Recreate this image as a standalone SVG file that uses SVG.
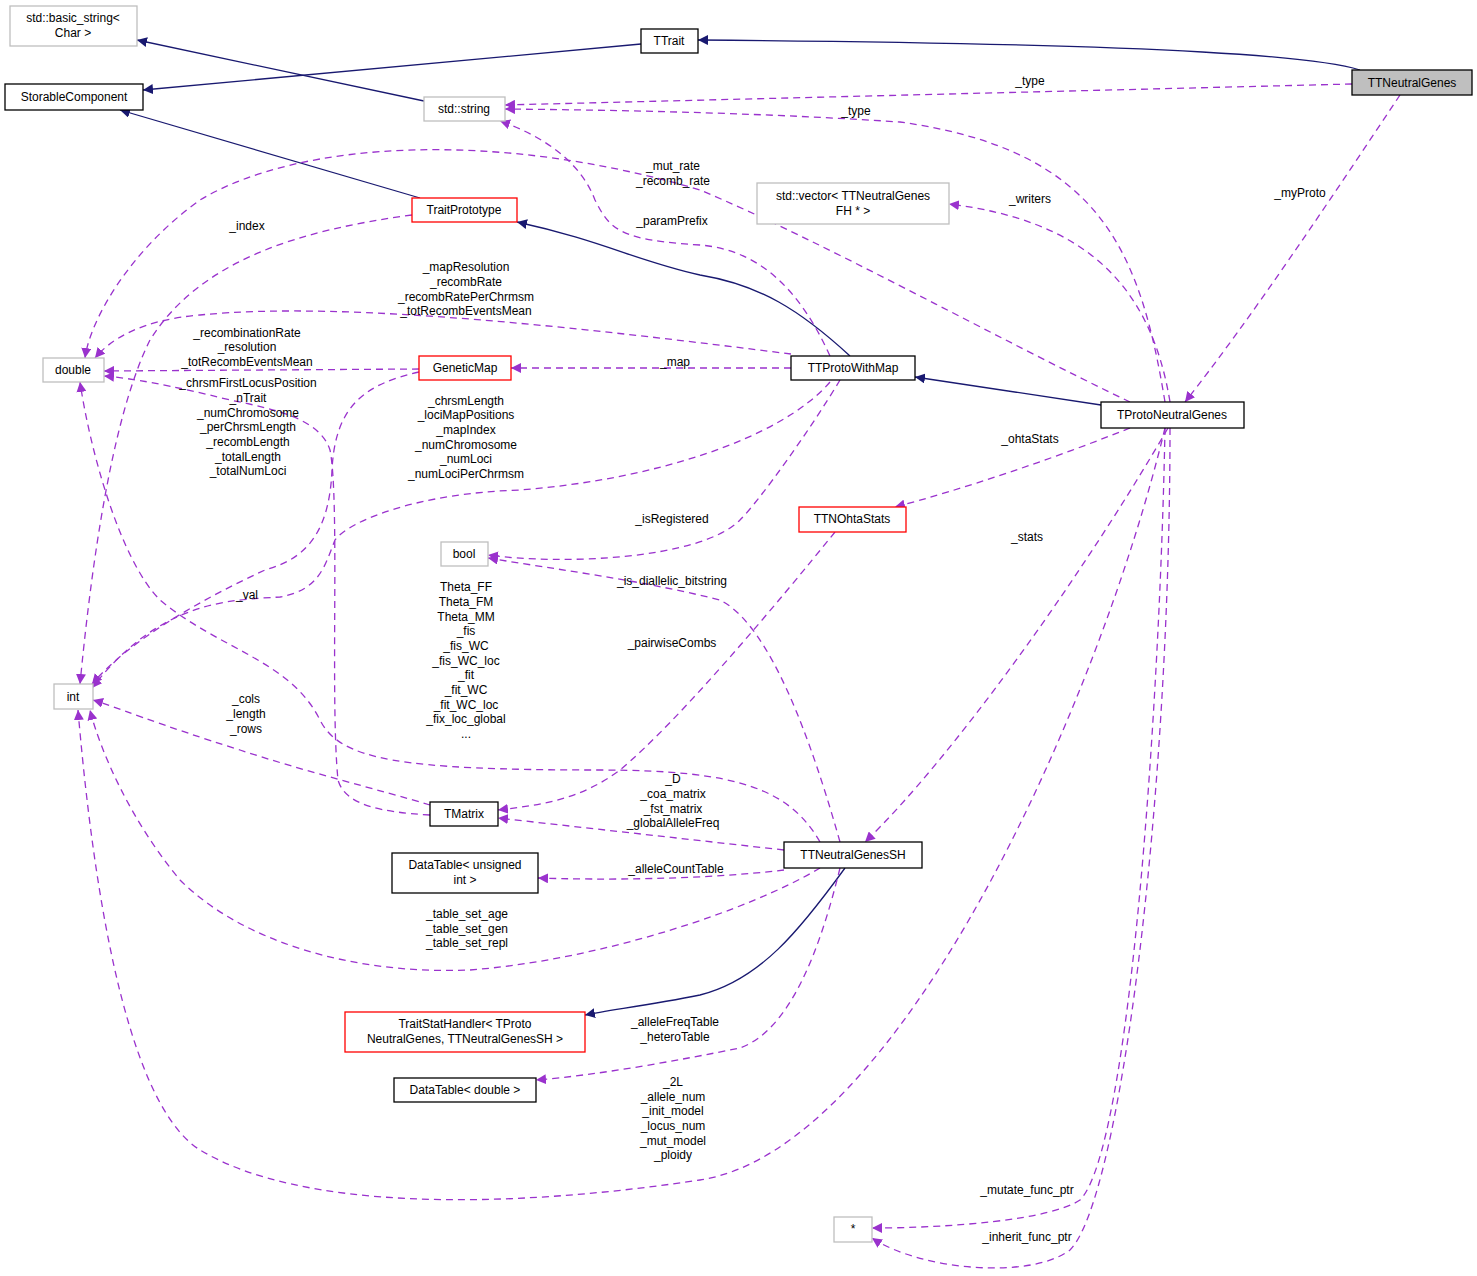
<svg xmlns="http://www.w3.org/2000/svg" width="1477" height="1276" viewBox="0 0 1477 1276">
<style>
text{font-family:"Liberation Sans",Arial,sans-serif;font-size:12px;fill:#000}
.n{text-anchor:middle}
.g rect{fill:#fff;stroke:#bfbfbf;stroke-width:1.3}
.b rect{fill:#fff;stroke:#000;stroke-width:1.3}
.r rect{fill:#fff;stroke:#ff0000;stroke-width:1.3}
.s{fill:none;stroke:#191970;stroke-width:1.3;marker-end:url(#hs)}
.d{fill:none;stroke:#9a32cd;stroke-width:1.3;stroke-dasharray:7,5;marker-end:url(#hd)}
.l{text-anchor:middle}
</style>
<defs>
<marker id="hs" viewBox="0 0 10 10" refX="10" refY="5" markerWidth="10" markerHeight="10" markerUnits="userSpaceOnUse" orient="auto"><path d="M0,0 L10,5 L0,10 z" fill="#191970"/></marker>
<marker id="hd" viewBox="0 0 10 10" refX="10" refY="5" markerWidth="10" markerHeight="10" markerUnits="userSpaceOnUse" orient="auto"><path d="M0,0 L10,5 L0,10 z" fill="#9a32cd"/></marker>
</defs>
<g id="connectors">
<path class="s" d="M1360,70 C1320,58 1200,44 698,40"/>
<path class="s" d="M641,44 L143,90"/>
<path class="s" d="M424,101 L137,40"/>
<path class="s" d="M420,198 L120,110"/>
<path class="s" d="M850,356 C800,310 760,285 700,275 C640,262 600,240 517,222"/>
<path class="s" d="M1101,405 L915,377"/>
<path class="s" d="M845,868 C800,930 760,980 700,995 C650,1005 610,1010 585,1015"/>
<path class="d" d="M1352,84 L505,105"/>
<path class="d" d="M1165,402 C1140,250 1100,150 900,122 C750,112 600,110 505,109"/>
<path class="d" d="M1400,95 C1330,200 1250,320 1185,402"/>
<path class="d" d="M1170,402 C1150,280 1080,220 949,204"/>
<path class="d" d="M1130,402 C1000,340 820,240 700,190 C500,130 300,140 200,200 C130,250 90,320 85,358"/>
<path class="d" d="M830,356 C800,290 760,250 700,245 C620,240 610,230 595,200 C580,160 540,135 500,121"/>
<path class="d" d="M791,354 C600,330 350,300 200,315 C140,320 110,340 95,358"/>
<path class="d" d="M419,369 L104,371"/>
<path class="d" d="M791,368 L511,368"/>
<path class="d" d="M412,215 C300,230 200,260 150,340 C110,420 90,580 80,684"/>
<path class="d" d="M419,372 C360,385 335,410 332,470 C329,540 300,560 265,570 C200,600 130,640 92,684"/>
<path class="d" d="M830,382 C780,440 650,480 520,490 C420,493 350,520 335,540 C325,565 320,590 280,597 C230,600 160,600 92,688"/>
<path class="d" d="M430,815 C380,812 345,805 338,780 C330,700 340,500 330,450 C320,420 280,410 230,400 C170,385 130,378 104,376"/>
<path class="d" d="M820,842 C790,790 740,770 600,770 C400,770 340,760 320,720 C290,660 220,650 160,600 C120,560 90,450 80,382"/>
<path class="d" d="M430,805 C380,790 300,770 240,750 C160,725 110,705 93,700"/>
<path class="d" d="M820,868 C750,910 600,960 470,970 C350,975 240,940 180,880 C130,820 100,750 90,710"/>
<path class="d" d="M1165,428 C1100,700 900,1150 700,1180 C500,1210 300,1210 200,1150 C120,1100 90,850 78,710"/>
<path class="d" d="M784,850 L498,818"/>
<path class="d" d="M835,532 C780,600 680,720 620,770 C580,800 540,805 498,810"/>
<path class="d" d="M840,380 C810,430 760,500 740,520 C700,560 560,565 488,555"/>
<path class="d" d="M840,842 C800,700 760,620 720,600 C640,580 560,570 488,558"/>
<path class="d" d="M784,870 C700,880 600,880 538,878"/>
<path class="d" d="M840,868 C820,950 790,1030 740,1048 C680,1060 600,1075 536,1080"/>
<path class="d" d="M1130,428 C1050,460 960,490 895,507"/>
<path class="d" d="M1168,428 C1080,580 950,760 865,842"/>
<path class="d" d="M1165,428 C1160,700 1130,1150 1080,1200 C1050,1220 950,1228 872,1228"/>
<path class="d" d="M1170,428 C1170,800 1120,1200 1070,1250 C1030,1280 920,1270 872,1238"/>
</g>
<g id="labels">
<text class="l" x="1030" y="85">_type</text>
<text class="l" x="856" y="115">_type</text>
<text class="l" x="1300" y="197">_myProto</text>
<text class="l" x="1030" y="203">_writers</text>
<text class="l" x="673" y="170">_mut_rate</text>
<text class="l" x="673" y="185">_recomb_rate</text>
<text class="l" x="672" y="225">_paramPrefix</text>
<text class="l" x="247" y="230">_index</text>
<text class="l" x="466" y="271">_mapResolution</text>
<text class="l" x="466" y="286">_recombRate</text>
<text class="l" x="466" y="301">_recombRatePerChrmsm</text>
<text class="l" x="466" y="315">_totRecombEventsMean</text>
<text class="l" x="247" y="337">_recombinationRate</text>
<text class="l" x="247" y="351">_resolution</text>
<text class="l" x="247" y="366">_totRecombEventsMean</text>
<text class="l" x="675" y="366">_map</text>
<text class="l" x="248" y="387">_chrsmFirstLocusPosition</text>
<text class="l" x="248" y="402">_nTrait</text>
<text class="l" x="248" y="417">_numChromosome</text>
<text class="l" x="248" y="431">_perChrsmLength</text>
<text class="l" x="248" y="446">_recombLength</text>
<text class="l" x="248" y="461">_totalLength</text>
<text class="l" x="248" y="475">_totalNumLoci</text>
<text class="l" x="466" y="405">_chrsmLength</text>
<text class="l" x="466" y="419">_lociMapPositions</text>
<text class="l" x="466" y="434">_mapIndex</text>
<text class="l" x="466" y="449">_numChromosome</text>
<text class="l" x="466" y="463">_numLoci</text>
<text class="l" x="466" y="478">_numLociPerChrmsm</text>
<text class="l" x="1030" y="443">_ohtaStats</text>
<text class="l" x="672" y="523">_isRegistered</text>
<text class="l" x="1027" y="541">_stats</text>
<text class="l" x="672" y="585">_is_diallelic_bitstring</text>
<text class="l" x="247" y="599">_val</text>
<text class="l" x="466" y="591">Theta_FF</text>
<text class="l" x="466" y="606">Theta_FM</text>
<text class="l" x="466" y="621">Theta_MM</text>
<text class="l" x="466" y="635">_fis</text>
<text class="l" x="466" y="650">_fis_WC</text>
<text class="l" x="466" y="665">_fis_WC_loc</text>
<text class="l" x="466" y="679">_fit</text>
<text class="l" x="466" y="694">_fit_WC</text>
<text class="l" x="466" y="709">_fit_WC_loc</text>
<text class="l" x="466" y="723">_fix_loc_global</text>
<text class="l" x="466" y="738">...</text>
<text class="l" x="672" y="647">_pairwiseCombs</text>
<text class="l" x="246" y="703">_cols</text>
<text class="l" x="246" y="718">_length</text>
<text class="l" x="246" y="733">_rows</text>
<text class="l" x="673" y="783">_D</text>
<text class="l" x="673" y="798">_coa_matrix</text>
<text class="l" x="673" y="813">_fst_matrix</text>
<text class="l" x="673" y="827">_globalAlleleFreq</text>
<text class="l" x="676" y="873">_alleleCountTable</text>
<text class="l" x="467" y="918">_table_set_age</text>
<text class="l" x="467" y="933">_table_set_gen</text>
<text class="l" x="467" y="947">_table_set_repl</text>
<text class="l" x="675" y="1026">_alleleFreqTable</text>
<text class="l" x="675" y="1041">_heteroTable</text>
<text class="l" x="673" y="1086">_2L</text>
<text class="l" x="673" y="1101">_allele_num</text>
<text class="l" x="673" y="1115">_init_model</text>
<text class="l" x="673" y="1130">_locus_num</text>
<text class="l" x="673" y="1145">_mut_model</text>
<text class="l" x="673" y="1159">_ploidy</text>
<text class="l" x="1027" y="1194">_mutate_func_ptr</text>
<text class="l" x="1027" y="1241">_inherit_func_ptr</text>
</g>
<g id="n_basic_string" class="g"><rect x="10" y="6" width="127" height="40"/><text class="n" x="73" y="22">std::basic_string&lt;</text><text class="n" x="73" y="37">Char &gt;</text></g>
<g id="n_TTrait" class="b"><rect x="641" y="29" width="57" height="24"/><text class="n" x="669" y="45">TTrait</text></g>
<g id="n_StorableComponent" class="b"><rect x="5" y="84" width="138" height="26"/><text class="n" x="74" y="101">StorableComponent</text></g>
<g id="n_TTNeutralGenes"><rect x="1352" y="70" width="120" height="25" fill="#bfbfbf" stroke="#000" stroke-width="1.3"/><text class="n" x="1412" y="87">TTNeutralGenes</text></g>
<g id="n_string" class="g"><rect x="424" y="97" width="81" height="24"/><text class="n" x="464" y="113">std::string</text></g>
<g id="n_TraitPrototype" class="r"><rect x="412" y="198" width="105" height="24"/><text class="n" x="464" y="214">TraitPrototype</text></g>
<g id="n_vector" class="g"><rect x="757" y="183" width="192" height="41"/><text class="n" x="853" y="200">std::vector&lt; TTNeutralGenes</text><text class="n" x="853" y="215">FH * &gt;</text></g>
<g id="n_double" class="g"><rect x="43" y="358" width="61" height="24"/><text class="n" x="73" y="374">double</text></g>
<g id="n_GeneticMap" class="r"><rect x="419" y="356" width="92" height="24"/><text class="n" x="465" y="372">GeneticMap</text></g>
<g id="n_TTProtoWithMap" class="b"><rect x="791" y="356" width="124" height="24"/><text class="n" x="853" y="372">TTProtoWithMap</text></g>
<g id="n_TProtoNeutralGenes" class="b"><rect x="1101" y="402" width="143" height="26"/><text class="n" x="1172" y="419">TProtoNeutralGenes</text></g>
<g id="n_TTNOhtaStats" class="r"><rect x="799" y="507" width="107" height="25"/><text class="n" x="852" y="523">TTNOhtaStats</text></g>
<g id="n_bool" class="g"><rect x="441" y="542" width="47" height="24"/><text class="n" x="464" y="558">bool</text></g>
<g id="n_int" class="g"><rect x="54" y="684" width="39" height="25"/><text class="n" x="73" y="701">int</text></g>
<g id="n_TMatrix" class="b"><rect x="430" y="802" width="68" height="24"/><text class="n" x="464" y="818">TMatrix</text></g>
<g id="n_TTNeutralGenesSH" class="b"><rect x="784" y="842" width="138" height="26"/><text class="n" x="853" y="859">TTNeutralGenesSH</text></g>
<g id="n_DataTable_uint" class="b"><rect x="392" y="853" width="146" height="40"/><text class="n" x="465" y="869">DataTable&lt; unsigned</text><text class="n" x="465" y="884">int &gt;</text></g>
<g id="n_TraitStatHandler" class="r"><rect x="345" y="1012" width="240" height="40"/><text class="n" x="465" y="1028">TraitStatHandler&lt; TProto</text><text class="n" x="465" y="1043">NeutralGenes, TTNeutralGenesSH &gt;</text></g>
<g id="n_DataTable_double" class="b"><rect x="394" y="1078" width="142" height="24"/><text class="n" x="465" y="1094">DataTable&lt; double &gt;</text></g>
<g id="n_star" class="g"><rect x="834" y="1217" width="38" height="25"/><text class="n" x="853" y="1233">*</text></g>
</svg>
